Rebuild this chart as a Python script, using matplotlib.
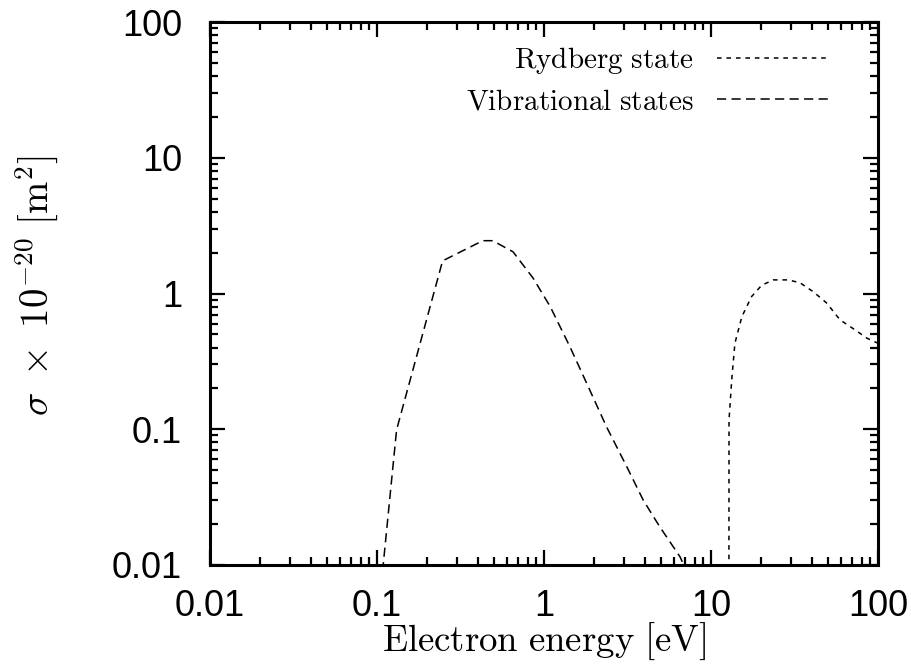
import matplotlib.pyplot as plt
from matplotlib.ticker import LogLocator, FixedLocator, NullFormatter

plt.rcParams['mathtext.fontset'] = 'cm'

# Rydberg state cross section
ryd_energy = [12.8, 12.82, 13.3, 13.9, 15.3, 17.5, 20.1, 23.6, 29.0, 34.1, 41.0, 49.3, 59.2, 72.8, 85.5, 100.0]
ryd_sigma = [0.008, 0.117, 0.23, 0.43, 0.675, 0.95, 1.15, 1.26, 1.26, 1.20, 1.03, 0.85, 0.64, 0.54, 0.47, 0.43]

# vibrational states cross section
vib_energy = [0.108, 0.131, 0.247, 0.43, 0.493, 0.652, 0.86, 1.09, 1.43, 1.84, 2.37, 3.13, 3.93, 4.95, 6.52, 7.0]
vib_sigma = [0.009, 0.099, 1.74, 2.45, 2.45, 2.03, 1.3, 0.80, 0.405, 0.206, 0.104, 0.053, 0.030, 0.019, 0.0115, 0.0095]

ticks = [0.01, 0.1, 1, 10, 100]
tick_labels = ['0.01', '0.1', '1', '10', '100']

fig = plt.figure(figsize=(9.11, 6.68), dpi=100)
ax = fig.add_axes([0.2305, 0.1542, 0.7333, 0.8128])

ax.plot(ryd_energy, ryd_sigma, color='black', lw=1.1, dashes=(3, 3.2),
        label=r'$\mathrm{Rydberg\ state}$')
ax.plot(vib_energy, vib_sigma, color='black', lw=1.1, dashes=(6, 3.5),
        label=r'$\mathrm{Vibrational\ states}$')

ax.set_xscale('log')
ax.set_yscale('log')
ax.set_xlim(0.01, 100)
ax.set_ylim(0.01, 100)

for axis in (ax.xaxis, ax.yaxis):
    axis.set_major_locator(FixedLocator(ticks))
    axis.set_minor_locator(LogLocator(base=10, subs=range(2, 10)))
    axis.set_minor_formatter(NullFormatter())
ax.set_xticklabels(tick_labels, fontfamily='Liberation Sans', fontsize=26)
ax.set_yticklabels(tick_labels, fontfamily='Liberation Sans', fontsize=26)

ax.tick_params(which='both', direction='in', top=True, right=True)
ax.tick_params(which='major', length=11, width=1.6)
ax.tick_params(which='minor', length=5.5, width=1.6)
ax.tick_params(axis='x', which='major', pad=17)
ax.tick_params(axis='y', which='major', pad=20)
for s in ax.spines.values():
    s.set_linewidth(2.2)

ax.set_xlabel(r'$\mathrm{Electron\ energy\ [eV]}$', fontsize=26.5)
ax.set_ylabel(r'$\sigma\ \times\ 10^{-20}\ [\mathrm{m}^2]$', fontsize=28)
ax.xaxis.set_label_coords(0.5, -0.102)
ax.yaxis.set_label_coords(-0.225, 0.515)

ax.legend(loc='upper right', frameon=False, markerfirst=False, fontsize=21,
          handlelength=3.8, handletextpad=0.8, labelspacing=0.4,
          borderpad=0, borderaxespad=0, bbox_to_anchor=(0.925, 0.958))

plt.savefig('out.png', dpi=100)
